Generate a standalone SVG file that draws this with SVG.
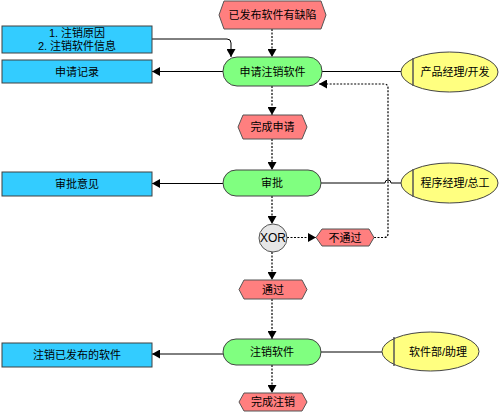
<svg xmlns="http://www.w3.org/2000/svg" width="500" height="414" viewBox="0 0 500 414">
<defs>
<marker id="arr" markerUnits="userSpaceOnUse" markerWidth="9" markerHeight="9" refX="8" refY="4.5" orient="auto">
<path d="M0,0 L8,4.5 L0,9 z" fill="#000"/>
</marker>
</defs>
<style>
text{font-family:"Liberation Sans","Noto Sans CJK SC",sans-serif;font-size:11px;fill:#000;text-anchor:middle;dominant-baseline:central}
.ev{fill:#FF7F7F;stroke:#555;stroke-width:1}
.fn{fill:#80FF80;stroke:#444;stroke-width:1}
.info{fill:#33CCFF;stroke:#404040;stroke-width:1}
.role{fill:#FFFF80;stroke:#444;stroke-width:1}
.bar{stroke:#555;stroke-width:1.5}
.xor{fill:#E6E6E6;stroke:#555;stroke-width:1}
.flow{fill:none;stroke:#000;stroke-width:1.2;stroke-dasharray:2,1.5}
.solid{fill:none;stroke:#000;stroke-width:1}
</style>
<rect width="500" height="414" fill="#fff"/>
<g id="connectors">
<path class="flow" d="M272,29 V57" marker-end="url(#arr)"/>
<path class="flow" d="M272,86 V115" marker-end="url(#arr)"/>
<path class="flow" d="M272,139 V170" marker-end="url(#arr)"/>
<path class="flow" d="M272,196 V224" marker-end="url(#arr)"/>
<path class="flow" d="M272,252 V280" marker-end="url(#arr)"/>
<path class="flow" d="M272,299 V339" marker-end="url(#arr)"/>
<path class="flow" d="M272,365 V393" marker-end="url(#arr)"/>
<path class="flow" d="M287,237.5 H316" marker-end="url(#arr)"/>
<path class="flow" d="M374,237.5 H384 Q388,237.5 388,233.5 V88 Q388,84 384,84 H319" marker-end="url(#arr)"/>
<path class="solid" d="M152,39 H227 Q231,39 231,43 V57" marker-end="url(#arr)"/>
<path class="solid" d="M223,71.5 H152" marker-end="url(#arr)"/>
<path class="solid" d="M223,183.5 H152" marker-end="url(#arr)"/>
<path class="solid" d="M223,354 H152" marker-end="url(#arr)"/>
<path class="solid" d="M322,71.5 H401"/>
<path class="solid" d="M321,183 H385 A3,3 0 0 1 391,183 H401"/>
<path class="solid" d="M321,352 H382"/>
</g>
<g id="ev-defect">
<polygon class="ev" points="219,15 224,1 321,1 326,15 321,29 224,29"/>
<text x="272.5" y="15">已发布软件有缺陷</text>
</g>
<g id="fn-apply">
<rect class="fn" x="223" y="57" width="99" height="29" rx="14"/>
<text x="272.5" y="71.5">申请注销软件</text>
</g>
<g id="ev-applied">
<polygon class="ev" points="238,127 243,115 302,115 307,127 302,139 243,139"/>
<text x="272.5" y="127">完成申请</text>
</g>
<g id="fn-approve">
<rect class="fn" x="223" y="170" width="98" height="26" rx="13"/>
<text x="272" y="183">审批</text>
</g>
<g id="xor">
<circle class="xor" cx="273" cy="238" r="14"/>
<text x="273" y="238" style="font-size:12px">XOR</text>
</g>
<g id="ev-reject">
<polygon class="ev" points="316,237.5 322,229 369,229 374,237.5 369,246 322,246"/>
<text x="345" y="237.5">不通过</text>
</g>
<g id="ev-pass">
<polygon class="ev" points="239,289.5 244,280 302,280 307,289.5 302,299 244,299"/>
<text x="273" y="289.5">通过</text>
</g>
<g id="fn-cancel">
<rect class="fn" x="223" y="339" width="98" height="26" rx="13"/>
<text x="272" y="352">注销软件</text>
</g>
<g id="ev-done">
<polygon class="ev" points="239,402 244,393 302,393 307,402 302,411 244,411"/>
<text x="273" y="402">完成注销</text>
</g>
<g id="info-reason">
<rect class="info" x="2" y="26" width="150" height="27"/>
<text x="77" y="33">1. 注销原因</text>
<text x="77" y="46">2. 注销软件信息</text>
</g>
<g id="info-record">
<rect class="info" x="2" y="60" width="150" height="23"/>
<text x="77" y="71.5">申请记录</text>
</g>
<g id="info-opinion">
<rect class="info" x="2" y="172" width="150" height="24"/>
<text x="77" y="184">审批意见</text>
</g>
<g id="info-cancelled">
<rect class="info" x="2" y="343" width="150" height="24"/>
<text x="77" y="355">注销已发布的软件</text>
</g>
<g id="role-pm">
<ellipse class="role" cx="449.5" cy="72" rx="48.5" ry="20"/>
<line class="bar" x1="413" y1="58" x2="413" y2="86"/>
<text x="455" y="72">产品经理/开发</text>
</g>
<g id="role-chief">
<ellipse class="role" cx="449.5" cy="183" rx="48.5" ry="20"/>
<line class="bar" x1="413" y1="169" x2="413" y2="197"/>
<text x="455" y="183">程序经理/总工</text>
</g>
<g id="role-assist">
<ellipse class="role" cx="430.5" cy="351.5" rx="48.5" ry="19.5"/>
<line class="bar" x1="394" y1="337" x2="394" y2="366"/>
<text x="438" y="351.5">软件部/助理</text>
</g>
</svg>
